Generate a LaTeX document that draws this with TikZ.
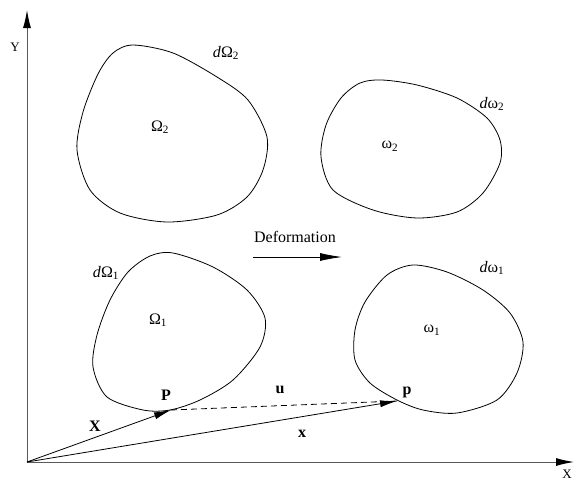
\documentclass[tikz,border=0pt]{standalone}
\usepackage{fontspec}
\setmainfont{Liberation Serif}
\usetikzlibrary{arrows.meta}
\tikzset{
  axis/.style={-{Latex[length=18pt,width=8pt,color=black]}, line width=1pt, gray!70!black},
  body/.style={line width=0.8pt, smooth cycle},
  vec/.style={-{Latex[length=17pt,width=7pt]}, line width=0.8pt},
  lbl/.style={font=\fontsize{16}{19}\selectfont, inner sep=0pt},
  bold/.style={font=\fontsize{16}{19}\selectfont\bfseries, inner sep=0pt},
  axlbl/.style={font=\fontsize{13}{15}\selectfont, inner sep=0pt}
}
\begin{document}
\begin{tikzpicture}[x=1pt,y=-1pt]
      \useasboundingbox (0,0) rectangle (574,480);
      % axes
      \coordinate (O) at (27,462);
      \coordinate (ytip) at (27,10);
      \coordinate (xtip) at (574,462);
      \draw[axis] (O) -- (ytip);
      \draw[axis] (O) -- (xtip);
      \node[axlbl] (ylabel) at (15,47) {Y};
      \node[axlbl] (xlabel) at (567,474) {X};
      % reference bodies
      \draw[body] plot coordinates {(133,45) (173,53) (217,77) (248,100) (267,137)
        (263,170) (247,197) (217,215) (167,222) (120,213) (90,190) (77,150)
        (83,112) (98,74) (113,53)};
      \draw[body] plot coordinates {(173,253) (213,267) (247,290) (265,318)
        (260,347) (233,380) (200,400) (170,410) (143,410) (107,397) (93,367)
        (97,335) (110,300) (128,272) (150,256)};
      % deformed bodies
      \draw[body] plot coordinates {(382,80) (417,85) (457,98) (487,118) (500,140)
        (500,163) (483,193) (457,212) (417,218) (373,210) (333,190) (321,157)
        (326,125) (341,98) (360,83)};
      \draw[body] plot coordinates {(413,265) (447,272) (483,290) (510,313)
        (523,342) (517,373) (497,400) (457,413) (423,410) (397,400) (370,383)
        (355,360) (355,330) (365,302) (387,275)};
      % labels of the bodies
      \node[lbl] (Om2) at (160,127) {Ω\textsubscript{2}};
      \node[lbl] (dOm2) at (226,53) {\textit{d}Ω\textsubscript{2}};
      \node[lbl] (om2) at (390,146) {ω\textsubscript{2}};
      \node[lbl] (dom2) at (492,104) {\textit{d}ω\textsubscript{2}};
      \node[lbl] (Om1) at (158,320) {Ω\textsubscript{1}};
      \node[lbl] (dOm1) at (106,273) {\textit{d}Ω\textsubscript{1}};
      \node[lbl] (om1) at (432,330) {ω\textsubscript{1}};
      \node[lbl] (dom1) at (492,268) {\textit{d}ω\textsubscript{1}};
      % deformation arrow
      \node[lbl] (deform) at (295,237) {Deformation};
      \coordinate (dstart) at (253,257);
      \coordinate (dend) at (342,257);
      \draw[-{Latex[length=22pt,width=8pt]}, line width=0.8pt] (dstart) -- (dend);
      % the points and vectors
      \coordinate (P) at (171,410);
      \coordinate (p) at (397,401);
      \draw[vec] (O) -- (P);
      \draw[vec] (O) -- (p);
      \draw[dashed, dash pattern=on 6pt off 4pt, line width=0.8pt] (P) -- (p);
      \node[bold] (Plabel) at (166,395) {P};
      \node[bold] (plabel) at (407,392) {p};
      \node[bold] (ulabel) at (280,390) {u};
      \node[bold] (Xlabel) at (95,426) {X};
      \node[bold] (xlabel2) at (302,434) {x};
    \end{tikzpicture}
\end{document}
